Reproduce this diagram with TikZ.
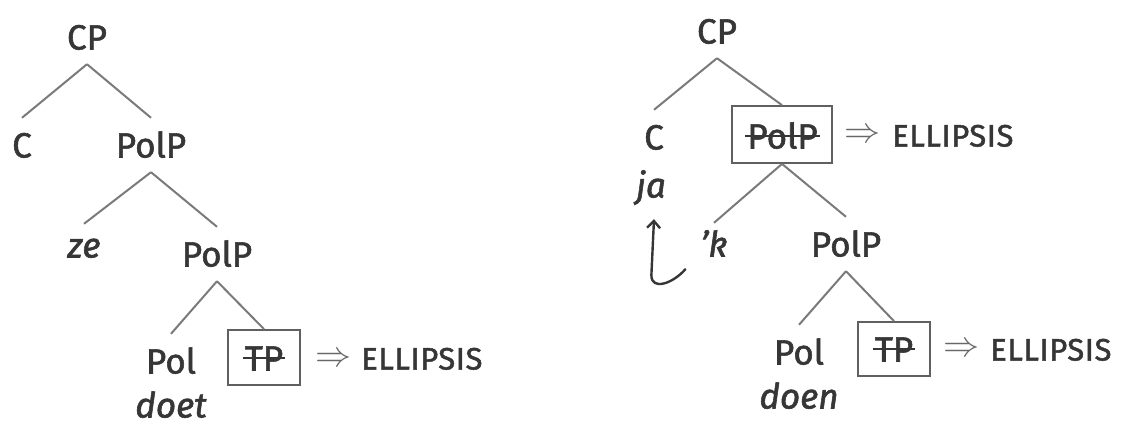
\RequirePackage{fix-cm}
\documentclass[tikz,border=0pt]{standalone}
\usepackage{fontspec}
\setmainfont{Fira Sans}[FakeBold=1.6]
\usetikzlibrary{calc,arrows.meta}
\newcommand\catsize{\fontsize{35}{40}\selectfont}
\newcommand\scsize{\fontsize{31}{34}\selectfont\addfontfeature{LetterSpace=2}}
\definecolor{ink}{HTML}{363636}
\definecolor{branch}{HTML}{7A7A7A}
\definecolor{frame}{HTML}{606060}
\tikzset{
  cat/.style={font=\catsize, text=ink, text height=25pt, text depth=0pt,
    inner xsep=0pt, inner ysep=0pt, minimum height=54pt},
  lex/.style={font=\catsize\itshape, text=ink, text height=25pt, text depth=0pt,
    inner xsep=0pt, inner ysep=0pt, minimum height=42pt},
  struck/.style={font=\catsize, text=ink, text height=25pt, text depth=0pt,
    inner xsep=2pt, inner ysep=0pt},
  elbox/.style={draw=frame, line width=1.8pt, minimum width=#1},
  elbox/.default=72pt,
  strike/.style={draw=ink, line width=1.5pt},
  impl/.style={font=\fontsize{36}{38}\selectfont, text=branch!85!black, inner sep=0pt},
  ellipsis/.style={font=\scsize, text=ink, text height=21pt, text depth=0pt, inner sep=0pt},
  edge/.style={draw=branch, line width=2pt},
  move/.style={draw=ink, line width=2.4pt, line cap=round,
    -{Straight Barb[length=7pt,width=13pt,line width=2.4pt]}}
}
\begin{document}
\begin{tikzpicture}[x=1pt,y=-1pt]
\useasboundingbox (0,0) rectangle (1132,426);

% ---- left tree ----
\node[cat] (lcp) at (87,37) {CP};
\node[cat] (lc) at (22,145) {C};
\node[cat] (lpolp1) at (151,145) {PolP};
\node[lex] (lze) at (84,245) {ze};
\node[cat] (lpolp2) at (217,254) {PolP};
\node[cat] (lpol) at (171,361) {Pol};
\node[lex] (ldoet) at (171,405) {doet};
\node[struck] (ltp) at (264,358) {TP};
\node[elbox, minimum height=55pt] (ltpbox) at (264,357.5) {};
\node[impl] (limp) at (333,360) {$\Rightarrow$};
\node[ellipsis, anchor=west] (lell) at (361,359) {ELLIPSIS};

\draw[edge] (lcp.south) -- (lc.north);
\draw[edge] (lcp.south) -- (lpolp1.north);
\draw[edge] (lpolp1.south) -- (lze.north);
\draw[edge] (lpolp1.south) -- (lpolp2.north);
\draw[edge] (lpolp2.south) -- (lpol.north);
\draw[edge] (lpolp2.south) -- (ltpbox.north);
\draw[strike] (ltp.west) -- (ltp.east);

% ---- right tree ----
\node[cat] (rcp) at (717,31) {CP};
\node[cat] (rc) at (654,137) {C};
\node[lex] (rja) at (651,185) {ja};
\node[struck] (rpolp1) at (782.5,136) {PolP};
\node[elbox=100pt, minimum height=57pt] (rpolbox) at (782,134.5) {};
\node[impl] (rimp1) at (862,136) {$\Rightarrow$};
\node[ellipsis, anchor=west] (rell1) at (892,136) {ELLIPSIS};
\node[lex] (rk) at (714,244) {'k};
\node[cat] (rpolp2) at (846,244) {PolP};
\node[cat] (rpol) at (799,352) {Pol};
\node[lex] (rdoen) at (799,396) {doen};
\node[struck] (rtp) at (894,349) {TP};
\node[elbox, minimum height=54pt] (rtpbox) at (894,349) {};
\node[impl] (rimp2) at (961,350) {$\Rightarrow$};
\node[ellipsis, anchor=west] (rell2) at (990,350) {ELLIPSIS};

\draw[edge] (rcp.south) -- (rc.north);
\draw[edge] (rcp.south) -- (rpolbox.north);
\draw[edge] (rpolbox.south) -- (rk.north);
\draw[edge] (rpolbox.south) -- (rpolp2.north);
\draw[edge] (rpolp2.south) -- (rpol.north);
\draw[edge] (rpolp2.south) -- (rtpbox.north);
\draw[strike] (rpolp1.west) -- (rpolp1.east);
\draw[strike] (rtp.west) -- (rtp.east);

% head movement of 'k up to C
\draw[move] ($(rk.south west)+(-15,4)$)
  .. controls +(-12,14) and +(0,16) .. ($(rk.south west)+(-49,10)$)
  -- ($(rja.south)+(3,13)$);
\end{tikzpicture}
\end{document}
